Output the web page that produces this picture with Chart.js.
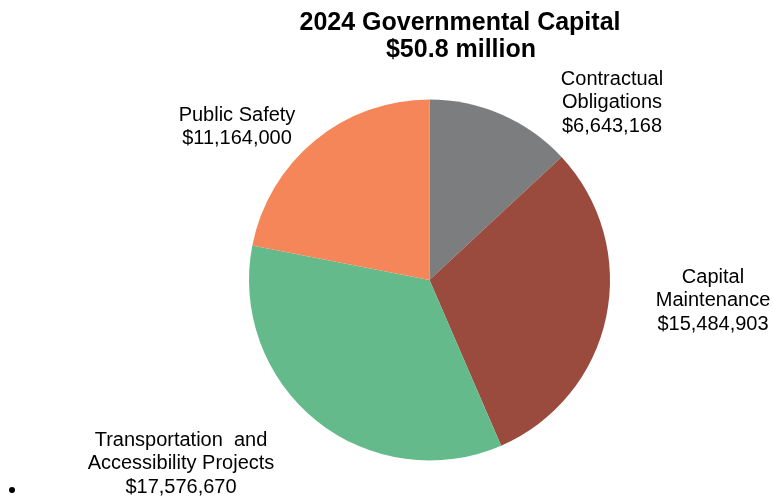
<!DOCTYPE html>
<html>
<head>
<meta charset="utf-8">
<script src="https://cdn.jsdelivr.net/npm/chart.js@4/dist/chart.umd.min.js"></script>
<style>
  html, body { margin: 0; padding: 0; background: #ffffff; }
  #wrap { width: 773px; height: 497px; position: relative; }
</style>
</head>
<body>
<div id="wrap"><canvas id="pie" width="773" height="497"></canvas></div>
<script>
// 2024 governmental capital budget by program area
const titleLines = ['2024 Governmental Capital', '$50.8 million'];
const categories = [
  ['Contractual', 'Obligations'],
  ['Capital', 'Maintenance'],
  ['Transportation  and', 'Accessibility Projects'],
  ['Public Safety']
];
const amounts = [6643168, 15484903, 17576670, 11164000];
const sliceColors = ['#7b7d7e', '#9a4b3e', '#65ba8c', '#f5865a'];

// label anchor (centre of text block, first-line middle)
const labelAnchors = [
  { x: 612, y: 79 },
  { x: 713, y: 277 },
  { x: 181, y: 440 },
  { x: 237, y: 115 }
];

const fmt = v => '$' + v.toLocaleString('en-US');

const annotate = {
  id: 'annotate',
  afterDraw(chart) {
    const ctx = chart.ctx;
    ctx.save();
    ctx.fillStyle = '#000000';
    ctx.textAlign = 'center';
    ctx.textBaseline = 'middle';

    // title
    ctx.font = 'bold 25px "Liberation Sans", Arial, sans-serif';
    ctx.fillText(titleLines[0], 460, 23);
    ctx.fillText(titleLines[1], 461, 50);

    // category labels with amounts
    ctx.font = '20px "Liberation Sans", Arial, sans-serif';
    categories.forEach((lines, i) => {
      const a = labelAnchors[i];
      const all = lines.concat([fmt(amounts[i])]);
      all.forEach((t, k) => ctx.fillText(t, a.x, a.y + k * 23.5));
    });

    // stray bullet
    ctx.beginPath();
    ctx.arc(12, 490, 3, 0, Math.PI * 2);
    ctx.fill();
    ctx.restore();
  }
};

new Chart(document.getElementById('pie'), {
  type: 'pie',
  data: {
    labels: categories.map(l => l.join(' ')),
    datasets: [{
      data: amounts,
      backgroundColor: sliceColors,
      borderWidth: 0
    }]
  },
  options: {
    responsive: false,
    animation: false,
    layout: { padding: { top: 99, bottom: 36, left: 249, right: 163 } },
    plugins: {
      legend: { display: false },
      title: { display: false },
      tooltip: { enabled: false }
    }
  },
  plugins: [annotate]
});
</script>
</body>
</html>
